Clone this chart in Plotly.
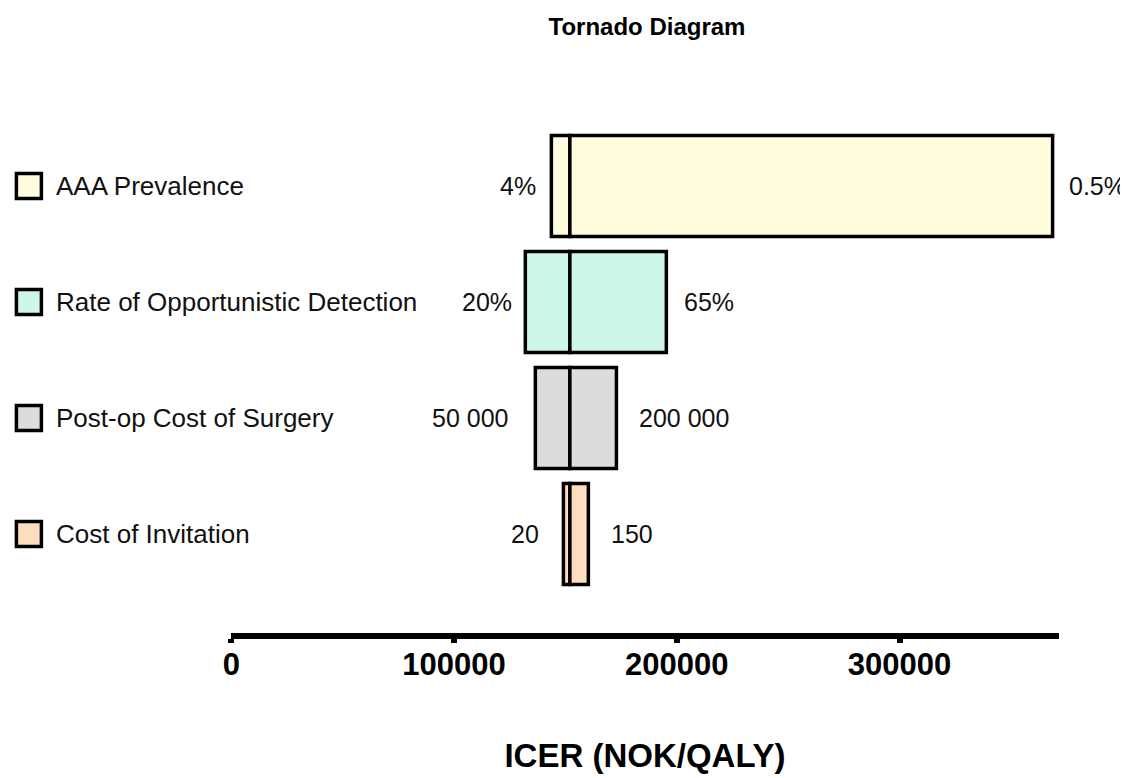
import plotly.graph_objects as go

# ---- data ----
categories = ["AAA Prevalence", "Rate of Opportunistic Detection",
              "Post-op Cost of Surgery", "Cost of Invitation"]
base_icer = 152000
low_icer = [143700, 132000, 136500, 149100]
high_icer = [368700, 195300, 172900, 160300]
low_labels = ["4%", "20%", "50 000", "20"]
high_labels = ["0.5%", "65%", "200 000", "150"]
colors = ["#FFFDDE", "#CDF7E6", "#DCDCDC", "#FDDDBD"]
tick_vals = [0, 100000, 200000, 300000]
tick_text = ["0", "100000", "200000", "300000"]

# ---- style ----
FONT = "Liberation Sans, Arial, sans-serif"
W, H = 1128, 778
X0, X1 = 216, 1050  # plot domain in figure pixels
gap_left = [13, 11, 25, 22]   # px between bar end and its label
gap_right = [14, 16, 21, 21]

fig = go.Figure()

for i, cat in enumerate(categories):
    for val in (low_icer[i], high_icer[i]):
        fig.add_trace(go.Bar(
            y=[cat], x=[val - base_icer], base=[base_icer],
            orientation="h", width=0.87,
            marker=dict(color=colors[i], line=dict(color="black", width=3.5)),
            showlegend=False, hoverinfo="skip",
        ))

# legend swatches (left column)
fig.add_trace(go.Scatter(
    x=[12] * len(categories), y=categories, xaxis="x2", yaxis="y",
    mode="markers",
    marker=dict(symbol="square", size=25, color=colors,
                line=dict(color="black", width=3.5)),
    showlegend=False, hoverinfo="skip", cliponaxis=False,
))

annotations = []
for i, cat in enumerate(categories):
    annotations.append(dict(
        x=37, y=cat, xref="x2", yref="y", text=categories[i],
        xanchor="left", yanchor="middle", showarrow=False,
        font=dict(family=FONT, size=26, color="#111111")))
    annotations.append(dict(
        x=low_icer[i], y=cat, xref="x", yref="y", text=low_labels[i],
        xanchor="right", yanchor="middle", showarrow=False,
        xshift=-gap_left[i],
        font=dict(family=FONT, size=25, color="#111111")))
    annotations.append(dict(
        x=high_icer[i], y=cat, xref="x", yref="y", text=high_labels[i],
        xanchor="left", yanchor="middle", showarrow=False,
        xshift=gap_right[i],
        font=dict(family=FONT, size=25, color="#111111")))

fig.update_layout(
    width=W, height=H,
    paper_bgcolor="white", plot_bgcolor="white",
    barmode="overlay",
    margin=dict(l=0, r=0, t=120, b=153),
    title=dict(text="<b>Tornado Diagram</b>", x=639 / W, xanchor="center",
               y=1 - 19 / H, yanchor="middle", yref="container",
               font=dict(family=FONT, size=24, color="black")),
    xaxis=dict(domain=[X0 / W, X1 / W], range=[0, 371400],
               tickvals=tick_vals, ticktext=tick_text,
               showgrid=False, zeroline=False,
               showline=True, linecolor="black", linewidth=6,
               ticks="outside", ticklen=4, tickwidth=6, tickcolor="black",
               ticklabelstandoff=-5,
               tickfont=dict(family=FONT, size=31, color="black", weight="bold"),
               title=dict(text="ICER (NOK/QALY)", standoff=65,
                          font=dict(family=FONT, size=33, color="black",
                                    weight="bold"))),
    xaxis2=dict(domain=[0, X0 / W], range=[0, X0], visible=False,
                anchor="y", fixedrange=True),
    yaxis=dict(categoryorder="array", categoryarray=categories[::-1],
               range=[-0.853, 3.5], visible=False, showgrid=False),
    annotations=annotations,
)

fig.write_html("out.html")
